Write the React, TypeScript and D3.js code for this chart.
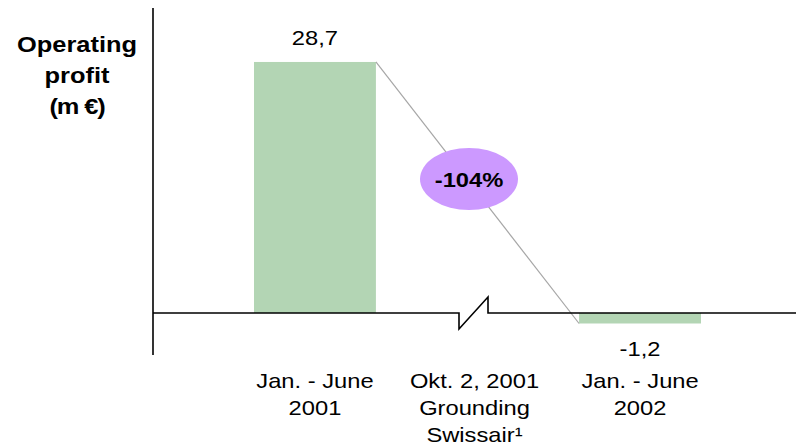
import React from "react";
import * as d3 from "d3";

const categories = ["Jan. - June 2001", "Okt. 2, 2001 Grounding Swissair¹", "Jan. - June 2002"];
const categoryLines = [["Jan. - June", "2001"], ["Okt. 2, 2001", "Grounding", "Swissair¹"], ["Jan. - June", "2002"]];
const values: (number | null)[] = [28.7, null, -1.2];
const valueLabels = ["28,7", "", "-1,2"];
const changeLabel = "-104%";
const titleLines = ["Operating", "profit", "(m €)"];

const W = 796;
const H = 446;
const SX = 1.13;
const FONT = "Arial, 'Liberation Sans', sans-serif";

function T({ x, y, children, size = 21, bold = false, anchor = "middle", fill = "#000", spacing = 0 }: any) {
  return (
    <text
      transform={`translate(${x},${y}) scale(${SX},1)`}
      textAnchor={anchor}
      fontFamily={FONT}
      fontSize={size}
      fontWeight={bold ? "bold" : "normal"}
      letterSpacing={spacing}
      fill={fill}
    >
      {children}
    </text>
  );
}

export default function App() {
  const x = d3.scaleBand<string>().domain(categories).range([254, 701]).paddingInner(0.25).paddingOuter(0);
  const y = d3.scaleLinear().domain([0, 30]).range([313, 50.6]);
  const y0 = y(0);
  const axisX = 153;
  const bw = x.bandwidth();

  const midC = (x(categories[1]) as number) + bw / 2 - 3.5;
  const baseline = d3.line()([
    [axisX, y0],
    [midC - 15, y0],
    [midC - 15, y0 + 16],
    [midC + 14, y0 - 16],
    [midC + 14, y0],
    [W, y0],
  ]);

  const x0 = x(categories[0]) as number;
  const x2 = x(categories[2]) as number;
  const v0 = values[0] as number;
  const v2 = values[2] as number;
  const connStart: [number, number] = [x0 + bw, y(v0)];
  const connEnd: [number, number] = [x2, y(v2)];
  const ex = 469;
  const ey = 179;

  return (
    <svg width={W} height={H} style={{ position: "absolute", left: 0, top: 0, background: "#fff" }}>
      <rect width={W} height={H} fill="#fff" />
      {/* title */}
      {titleLines.map((t, i) => (
        <T key={i} x={77} y={52 + i * 31} size={22.5} bold spacing={i === 2 ? -1 : 0}>
          {t}
        </T>
      ))}
      {/* bars */}
      {values.map((v, i) =>
        v === null ? null : (
          <rect
            key={i}
            x={x(categories[i]) as number}
            y={y(Math.max(0, v))}
            width={bw}
            height={Math.abs(y(v) - y0)}
            fill="#b3d5b4"
          />
        )
      )}
      {/* connector */}
      <line x1={connStart[0]} y1={connStart[1]} x2={connEnd[0]} y2={connEnd[1]} stroke="#a6a6a6" strokeWidth={1.2} />
      {/* axes */}
      <line x1={axisX} y1={8} x2={axisX} y2={355} stroke="#000" strokeWidth={1.6} />
      <path d={baseline as string} fill="none" stroke="#000" strokeWidth={1.6} />
      {/* value labels */}
      {values.map((v, i) =>
        v === null ? null : (
          <T key={i} x={(x(categories[i]) as number) + bw / 2} y={v >= 0 ? y(v) - 17 : y(v) + 33}>
            {valueLabels[i]}
          </T>
        )
      )}
      {/* ellipse */}
      <ellipse cx={ex} cy={ey} rx={49} ry={31} fill="#cc99ff" />
      <T x={ex} y={ey + 7.5} size={21} bold>
        {changeLabel}
      </T>
      {/* category labels */}
      {categoryLines.map((lines, i) =>
        lines.map((t, j) => (
          <T key={i + "-" + j} x={(x(categories[i]) as number) + bw / 2 - (i === 1 ? 3 : 0)} y={388 + j * 27}>
            {t}
          </T>
        ))
      )}
    </svg>
  );
}
